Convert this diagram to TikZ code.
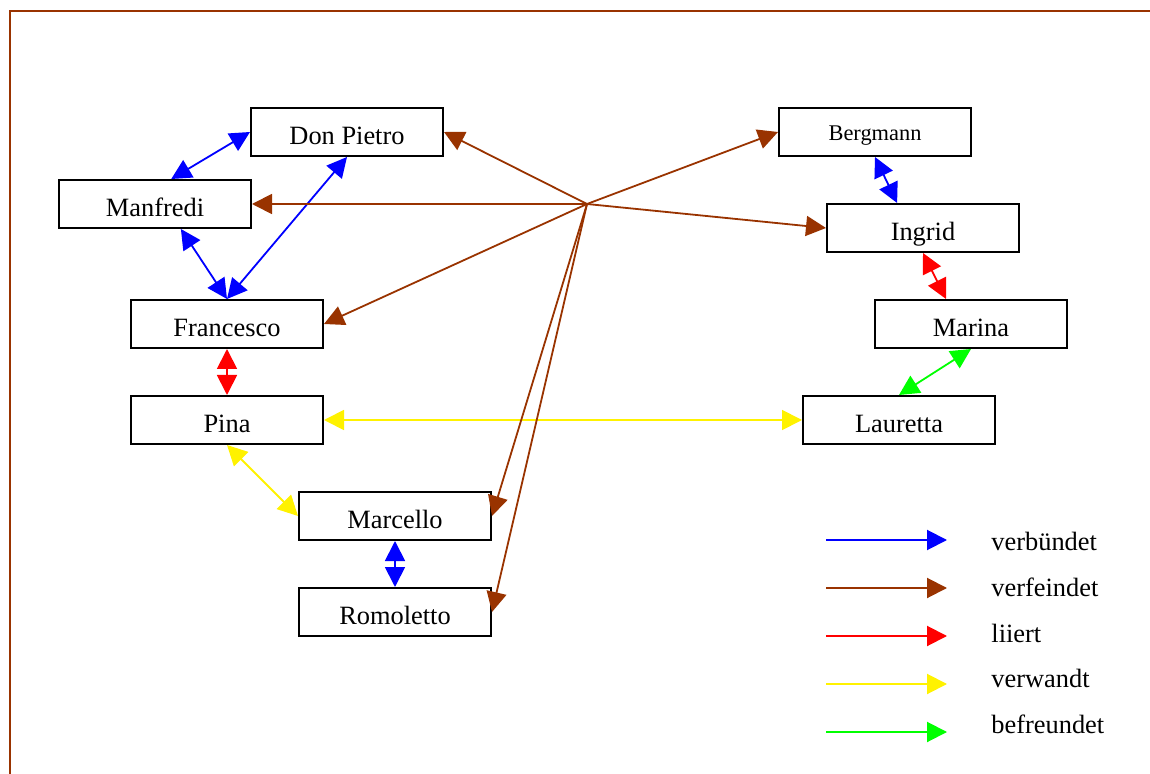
\documentclass[tikz,border=0pt]{standalone}
\usepackage{fontspec}
\setmainfont{Liberation Serif}
\usetikzlibrary{arrows.meta}
\definecolor{feind}{RGB}{153,51,0}
\tikzset{
	person/.style={draw,line width=1pt,minimum width=96pt,minimum height=24pt,inner sep=0pt,
		text height=12.3pt,text depth=0pt,font=\fontsize{13.2}{15}\selectfont},
	beide/.style={line width=0.9pt,>={Triangle[length=10pt,width=10pt]},<->},
	einseitig/.style={line width=0.9pt,feind,>={Triangle[length=10pt,width=10pt]},->},
}
\begin{document}
\begin{tikzpicture}[x=0.5pt,y=-0.5pt]
	\clip (0,0) rectangle (1150,774);
	\draw[feind,line width=1pt] (10,790) -- (10,11) -- (1160,11); %Rahmen
	% Personen
	\node[person] (donpietro) at (347,132) {Don Pietro};
	\node[person] (manfredi) at (155,204) {Manfredi};
	\node[person] (francesco) at (227,324) {Francesco};
	\node[person] (pina) at (227,420) {Pina};
	\node[person] (marcello) at (395,516) {Marcello};
	\node[person] (romoletto) at (395,612) {Romoletto};
	\node[person,text height=8.7pt,font=\fontsize{11.2}{13}\selectfont] (bergmann) at (875,132) {Bergmann};
	\node[person] (ingrid) at (923,228) {Ingrid};
	\node[person] (marina) at (971,324) {Marina};
	\node[person] (lauretta) at (899,420) {Lauretta};
	% verbündet
	\draw[beide,blue] (manfredi.57) -- (donpietro.west);
	\draw[beide,blue] (manfredi.-44) -- (francesco.north);
	\draw[beide,blue] (donpietro.south) -- (francesco.north);
	\draw[beide,blue] (marcello.south) -- (romoletto.north);
	\draw[beide,blue] (bergmann.south) -- (ingrid.136);
	% liiert
	\draw[beide,red] (francesco.south) -- (pina.north);
	\draw[beide,red] (ingrid.south) -- (marina.135);
	% verwandt
	\draw[beide,yellow] (pina.east) -- (lauretta.west);
	\draw[beide,yellow] (pina.south) -- (marcello.west);
	% befreundet
	\draw[beide,green] (marina.south) -- (lauretta.north);
	% verfeindet
	\coordinate (hub) at (587,204);
	\foreach \ziel in {donpietro.east,manfredi.east,francesco.east,bergmann.west,ingrid.west,marcello.east,romoletto.east}{
		\draw[einseitig] (hub) -- (\ziel);
	}
	% Legende
	\foreach \y/\b/\farbe/\wort [count=\i] in {540/550/blue/verbündet,588/596/feind/verfeindet,636/642/red/liiert,684/687/yellow/verwandt,732/733/green/befreundet}{
		\coordinate (l\i) at (826,\y);
		\coordinate (r\i) at (947,\y);
		\draw[line width=1pt,\farbe,-{Triangle[length=10pt,width=10pt]}] (l\i) -- (r\i);
		\node[anchor=base west,inner sep=0pt,font=\fontsize{13.2}{15}\selectfont] (t\i) at (991,\b) {\wort};
	}
\end{tikzpicture}
\end{document}
